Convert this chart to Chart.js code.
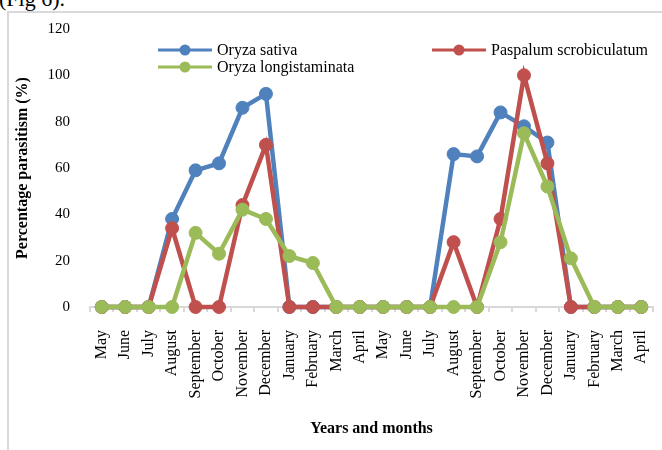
<!DOCTYPE html>
<html>
<head>
<meta charset="utf-8">
<script src="https://cdn.jsdelivr.net/npm/chart.js@4"></script>
<style>
  html, body { margin: 0; padding: 0; background: #fff; }
  #wrap { position: relative; width: 662px; height: 450px; overflow: hidden; }
  #fig { position: absolute; left: -1px; top: -14px; font: 22px "Liberation Serif", serif; color: #000; }
  #frame { position: absolute; left: 7px; top: 11px; width: 700px; height: 500px;
           border-left: 2px solid #d9d9d9; border-top: 2px solid #d9d9d9; background: #fff; }
  #chart { position: absolute; left: 0; top: 0; }
</style>
</head>
<body>
<div id="wrap">
  <div id="fig">(Fig 6).</div>
  <div id="frame"></div>
  <canvas id="chart" width="662" height="450"></canvas>
</div>
<script>
// Months over two survey years
const months = ["May", "June", "July", "August", "September", "October", "November", "December",
  "January", "February", "March", "April",
  "May", "June", "July", "August", "September", "October", "November", "December",
  "January", "February", "March", "April"];

// Percentage parasitism per host
const oryzaSativa = [0, 0, 0, 38, 59, 62, 86, 92, 0, 0, 0, 0,
  0, 0, 0, 66, 65, 84, 78, 71, 0, 0, 0, 0];
const paspalumScrobiculatum = [0, 0, 0, 34, 0, 0, 44, 70, 0, 0, 0, 0,
  0, 0, 0, 28, 0, 38, 100, 62, 0, 0, 0, 0];
const oryzaLongistaminata = [0, 0, 0, 0, 32, 23, 42, 38, 22, 19, 0, 0,
  0, 0, 0, 0, 0, 28, 75, 52, 21, 0, 0, 0];

const yTicks = [0, 20, 40, 60, 80, 100, 120];

const serif = '"Liberation Serif", "Times New Roman", serif';

function series(label, data, color, order) {
  return {
    label, data, order,
    borderColor: color, backgroundColor: color,
    pointBackgroundColor: color, pointBorderColor: color,
    borderWidth: 4.5, pointRadius: 6.5, pointBorderWidth: 1, pointHoverRadius: 6.5,
    tension: 0, clip: false
  };
}

// Legend drawn as two rows, like the original figure
const legendRows = {
  id: 'legendRows',
  afterDraw(chart) {
    const ctx = chart.ctx;
    const spots = [
      { i: 0, x: 158, y: 50 },
      { i: 1, x: 432, y: 50 },
      { i: 2, x: 158, y: 67 }
    ];
    ctx.save();
    ctx.font = '16px ' + serif;
    ctx.textBaseline = 'middle';
    ctx.textAlign = 'left';
    spots.forEach(s => {
      const ds = chart.data.datasets[s.i];
      ctx.strokeStyle = ds.borderColor;
      ctx.lineWidth = 3;
      ctx.beginPath();
      ctx.moveTo(s.x, s.y);
      ctx.lineTo(s.x + 54, s.y);
      ctx.stroke();
      ctx.fillStyle = ds.borderColor;
      ctx.beginPath();
      ctx.arc(s.x + 27, s.y, 5.5, 0, Math.PI * 2);
      ctx.fill();
      ctx.fillStyle = '#000';
      ctx.fillText(ds.label, s.x + 59, s.y + 1);
    });
    ctx.restore();
  }
};

new Chart(document.getElementById('chart'), {
  type: 'line',
  data: {
    labels: months,
    datasets: [
      series('Oryza sativa', oryzaSativa, '#4f81bd', 2),
      series('Paspalum scrobiculatum', paspalumScrobiculatum, '#c0504d', 1),
      series('Oryza longistaminata', oryzaLongistaminata, '#9bbb59', 0)
    ]
  },
  options: {
    responsive: false,
    animation: false,
    devicePixelRatio: 1,
    layout: { padding: { left: 8, right: 9, top: 22, bottom: 0 } },
    plugins: {
      legend: { display: false },
      tooltip: { enabled: false }
    },
    scales: {
      x: {
        offset: true,
        grid: {
          display: true, drawOnChartArea: false, drawTicks: true,
          tickLength: 5, offset: true, color: '#d9d9d9', lineWidth: 2
        },
        border: { display: true, color: '#d9d9d9', width: 2 },
        ticks: {
          color: '#000', font: { family: serif, size: 16 },
          maxRotation: 90, minRotation: 90, autoSkip: false, padding: 18
        },
        title: {
          display: true, text: 'Years and months', color: '#000',
          font: { family: serif, size: 16, weight: 'bold' },
          padding: { top: 0, bottom: 12 }
        },
        afterFit(scale) {
          scale.height = 143;
          scale.paddingLeft = 0;
          scale.paddingRight = 0;
        }
      },
      y: {
        min: 0, max: 120,
        afterBuildTicks(scale) { scale.ticks = yTicks.map(v => ({ value: v })); },
        grid: { display: false, drawTicks: false },
        border: { display: false },
        ticks: {
          color: '#000', font: { family: serif, size: 15 }, padding: 20
        },
        title: {
          display: true, text: 'Percentage parasitism (%)', color: '#000',
          font: { family: serif, size: 16, weight: 'bold' },
          padding: { top: 5, bottom: 0 }
        },
        afterFit(scale) { scale.width = 82; }
      }
    }
  },
  plugins: [legendRows]
});
</script>
</body>
</html>
